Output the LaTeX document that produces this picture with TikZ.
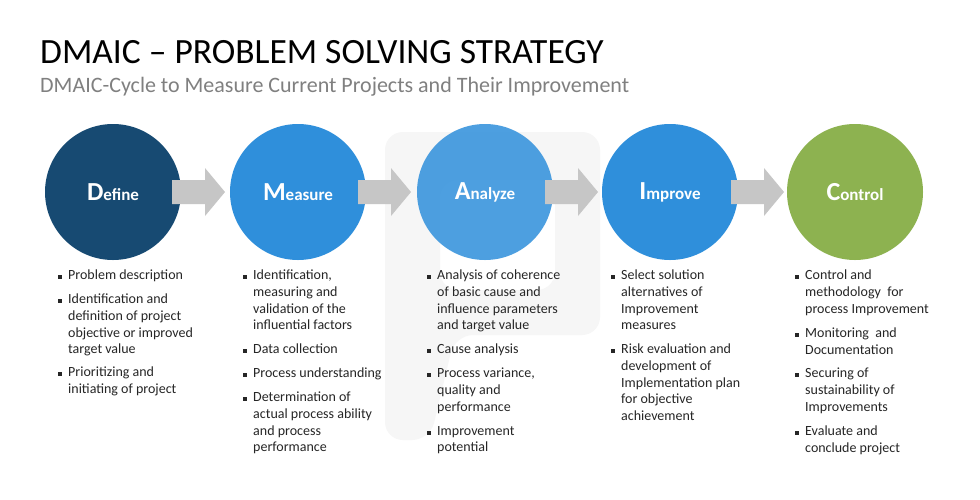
\documentclass[tikz,border=0pt]{standalone}
\usepackage{fontspec}
\setmainfont{Carlito}
\begin{document}
\begin{tikzpicture}[x=1pt,y=-1pt,
  circ/.style={circle,minimum size=136pt,inner sep=0pt,text=white,font=\bfseries\fontsize{17}{20}\selectfont},
  arr/.style={fill=gray!45,draw=none},
  itm/.style={anchor=north west,inner sep=0pt,align=left,font=\fontsize{14}{16.6}\selectfont,text=black!85},
  bul/.style={anchor=center,fill=black!85,minimum size=4pt,inner sep=0pt}]
\useasboundingbox[fill=white] (0,0) rectangle (980,499);
% watermark
\fill[gray!7,even odd rule,rounded corners=18pt] (385,132) -- (600,132) -- (600,335) -- (455,335) -- (430,440) -- (385,440) -- cycle
 (440,180) -- (555,180) -- (555,290) -- (440,290) -- cycle;
\node[anchor=west,inner sep=0pt,font=\fontsize{35.5}{40}\selectfont] (title) at (40,52) {DMAIC – PROBLEM SOLVING STRATEGY};
\node[anchor=west,inner sep=0pt,font=\fontsize{22}{26}\selectfont,text=gray] (sub) at (40,87) {DMAIC-Cycle to Measure Current Projects and Their Improvement};
\def\L#1#2{{\fontsize{26}{28}\selectfont #1}#2}
\node[circ,fill={rgb,255:red,23;green,74;blue,114}] (d) at (113,192) {\L{D}{efine}};
\node[circ,fill={rgb,255:red,47;green,143;blue,219}] (m) at (298,192) {\L{M}{easure}};
\node[circ,fill={rgb,255:red,47;green,143;blue,219},fill opacity=0.85,text opacity=1] (a) at (485,192) {\L{A}{nalyze}};
\node[circ,fill={rgb,255:red,47;green,143;blue,219}] (i) at (670,192) {\L{I}{mprove}};
\node[circ,fill={rgb,255:red,141;green,178;blue,80}] (c) at (855,192) {\L{C}{ontrol}};
\foreach \x in {172,358,545,731}{
 \fill[arr] (\x,180) -- (\x+33,180) -- (\x+33,168) -- (\x+53,192) -- (\x+33,216) -- (\x+33,204) -- (\x,204) -- cycle;}
\newcommand\itemat[4]{\node[bul] at (#1,#3+7) {}; \node[itm] at (#2,#3) {#4};}
% Define
\itemat{60}{68}{270}{Problem description}
\itemat{60}{68}{294}{Identification and\\definition of project\\objective or improved\\target value}
\itemat{60}{68}{367}{Prioritizing and\\initiating of project}
% Measure
\itemat{245}{253}{270}{Identification,\\measuring and\\validation of the\\influential factors}
\itemat{245}{253}{344}{Data collection}
\itemat{245}{253}{368}{Process understanding}
\itemat{245}{253}{392}{Determination of\\actual process ability\\and process\\performance}
% Analyze
\itemat{429}{437}{270}{Analysis of coherence\\of basic cause and\\influence parameters\\and target value}
\itemat{429}{437}{344}{Cause analysis}
\itemat{429}{437}{368}{Process variance,\\quality and\\performance}
\itemat{429}{437}{426}{Improvement\\potential}
% Improve
\itemat{613}{621}{270}{Select solution\\alternatives of\\Improvement\\measures}
\itemat{613}{621}{344}{Risk evaluation and\\development of\\Implementation plan\\for objective\\achievement}
% Control
\itemat{797}{805}{270}{Control and\\methodology~ for\\process Improvement}
\itemat{797}{805}{328}{Monitoring~ and\\Documentation}
\itemat{797}{805}{368}{Securing of\\sustainability of\\Improvements}
\itemat{797}{805}{426}{Evaluate and\\conclude project}
\end{tikzpicture}
\end{document}
